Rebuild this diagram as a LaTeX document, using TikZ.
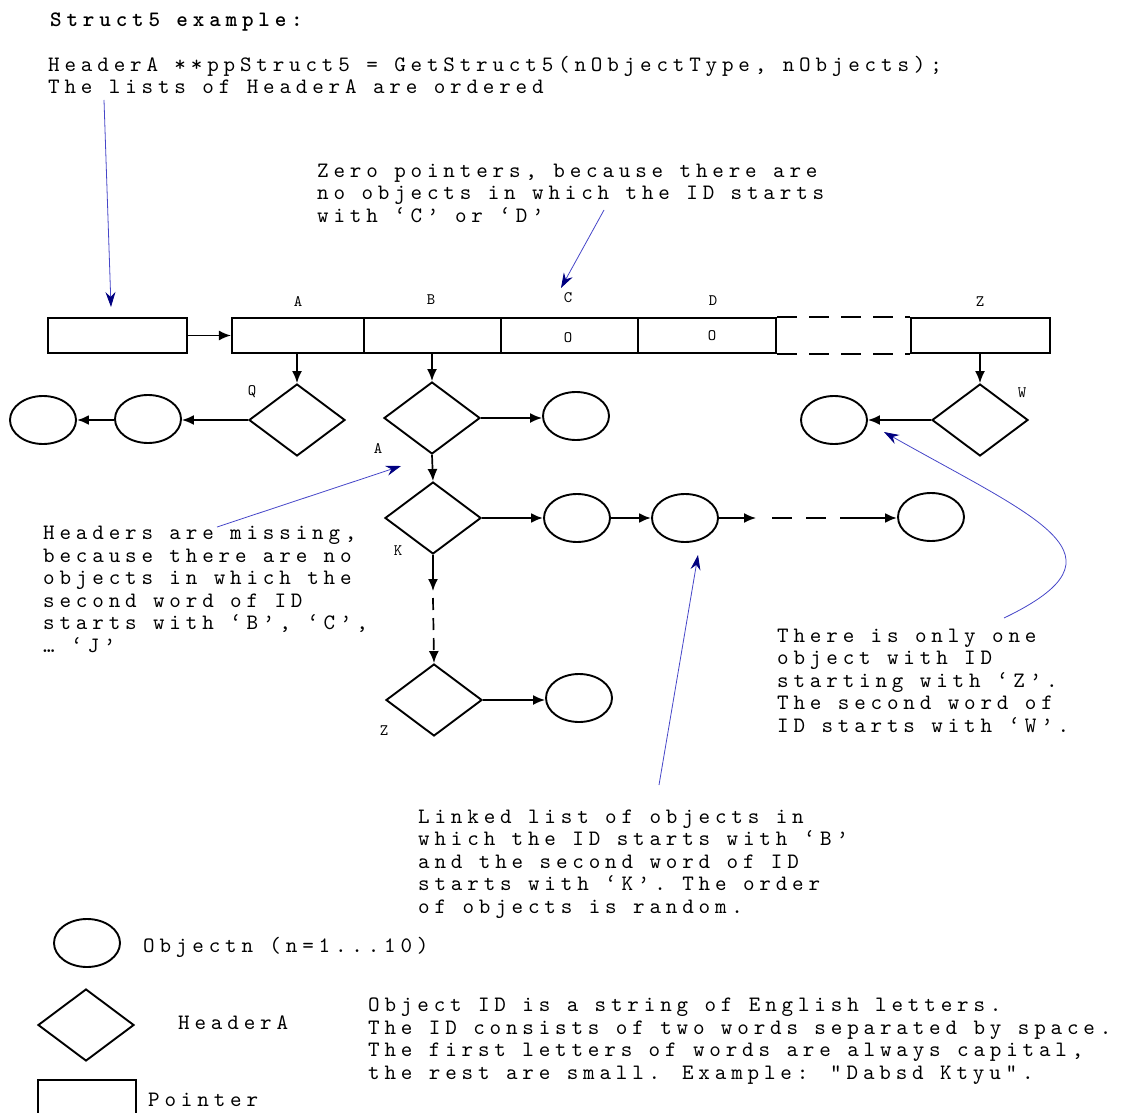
\documentclass[tikz,border=0pt]{standalone}
\usepackage{fontspec}
\newfontfamily\monof[LetterSpace=22]{lmmono10-regular.otf}
\newfontfamily\monob[LetterSpace=22]{lmmonolt10-bold.otf}
\newfontfamily\labf{lmmono10-regular.otf}
\usetikzlibrary{shapes.geometric,arrows.meta}
\definecolor{annline}{RGB}{70,70,200}
\definecolor{annhead}{RGB}{0,0,128}

\begin{document}
\begin{tikzpicture}[x=1pt,y=-1pt,
  cell/.style={draw, line width=2.2pt, minimum height=35pt, inner sep=0pt},
  hdr/.style={draw, diamond, line width=1.9pt, minimum width=96pt, minimum height=72pt, inner sep=0pt},
  obj/.style={draw, ellipse, line width=1.9pt, minimum width=66pt, minimum height=48pt, inner sep=0pt},
  link/.style={line width=1.7pt, -{Latex[length=12pt,width=10pt]}},
  boldlink/.style={line width=2.7pt, -{Latex[length=12pt,width=10pt]}},
  note/.style={annline, line width=0.8pt, -{Stealth[length=15pt,width=10pt,inset=5pt,color=annhead]}},
  txt/.style={font=\monof\fontsize{22}{22.5}\selectfont, align=left, inner sep=0pt, anchor=base west},
  lab/.style={font=\labf\fontsize{16}{16}\selectfont, inner sep=0pt},
]
\path[use as bounding box] (0,0) rectangle (1127,1113);

% headings (a multi-line node sits on the baseline of its last line)
\node[txt, font=\monob\fontsize{22}{22.5}\selectfont] (title) at (50,27) {Struct5 example:};
\node[txt] (code) at (48,94) {HeaderA **ppStruct5 = GetStruct5(nObjectType, nObjects);\\The lists of HeaderA are ordered};

% pointer and array of header pointers
\node[cell, minimum width=139pt] (ptr) at (117.5,335.5) {};
\node[cell, minimum width=132pt] (cA) at (298,335.5) {};
\node[cell, minimum width=137pt] (cB) at (432.5,335.5) {};
\node[cell, minimum width=137pt] (cC) at (569.5,335.5) {};
\node[cell, minimum width=138pt] (cD) at (707,335.5) {};
\node[cell, minimum width=139pt] (cZ) at (980.5,335.5) {};
\draw[line width=2.2pt, dash pattern=on 20pt off 12pt] (cD.north east) -- (cZ.north west);
\draw[line width=2.2pt, dash pattern=on 20pt off 12pt] (cD.south east) -- (cZ.south west);

\node[lab] (lA) at (298,302) {A};
\node[lab] (lB) at (431,300) {B};
\node[lab] (lC) at (568,298) {C};
\node[lab] (lD) at (713,301) {D};
\node[lab] (lZ) at (980,302) {Z};
\node[lab] (zC) at (568,338) {O};
\node[lab] (zD) at (712,336) {O};

\draw[line width=1.5pt, -{Latex[length=12pt,width=10pt]}] (ptr.east) -- (cA.west);

% headers
\node[hdr] (hQ) at (297,420) {};
\node[hdr] (hB) at (432,418) {};
\node[hdr] (hK) at (433,518) {};
\node[hdr] (hZ) at (434,700) {};
\node[hdr] (hW) at (980,420) {};

\node[lab] (lQ) at (252,392) {Q};
\node[lab] (lW) at (1022,393) {W};
\node[lab] (lA2) at (378,449) {A};
\node[lab] (lK) at (398,551) {K};
\node[lab] (lZ2) at (384,731) {Z};

% objects
\node[obj] (o0) at (43,420) {};
\node[obj] (o1) at (148,419) {};
\node[obj] (o2) at (576,416) {};
\node[obj] (o3) at (577,518) {};
\node[obj] (o4) at (685,518) {};
\node[obj] (o5) at (931,517) {};
\node[obj] (o6) at (579,698) {};
\node[obj] (o7) at (834,420) {};

% links
\draw[link] (cA.south -| hQ.north) -- (hQ.north);
\draw[link] (hQ.west) -- (hQ.west -| o1.east);
\draw[boldlink] (o1.west |- hQ.west) -- (o0.east |- hQ.west);

\draw[link] (cB.south -| hB.north) -- (hB.north);
\draw[link] (hB.east) -- (hB.east -| o2.west);
\draw[link] (hB.south) -- (hK.north);

\draw[boldlink] (hK.east) -- (hK.east -| o3.west);
\draw[boldlink] (o3.east) -- (o4.west);
\coordinate (g1) at (756,518);
\coordinate (g2) at (772,518);
\coordinate (g3) at (860,518);
\draw[link] (o4.east) -- (g1);
\draw[line width=2.2pt, dash pattern=on 20pt off 14pt] (g2) -- (g3);
\draw[boldlink] (g3) -- (o5.west |- g3);

\coordinate (k1) at (433,591);
\coordinate (k2) at (433,598);
\draw[link] (hK.south) -- (k1);
\draw[line width=1.7pt, dash pattern=on 12pt off 8pt, -{Latex[length=12pt,width=10pt]}] (k2) -- (hZ.north);
\draw[link] (hZ.east) -- (hZ.east -| o6.west);

\draw[link] (cZ.south -| hW.north) -- (hW.north);
\draw[link] (hW.west) -- (o7.east);

% notes
\node[txt] (tZero) at (317,222) {Zero pointers, because there are\\no objects in which the ID starts\\with ‘C’ or ‘D’};
\node[txt] (tMiss) at (43,652) {Headers are missing,\\because there are no\\objects in which the\\second word of ID\\starts with ‘B’, ‘C’,\\… ‘J’};
\node[txt] (tOne) at (777,732) {There is only one\\object with ID\\starting with ‘Z’.\\The second word of\\ID starts with ‘W’.};
\node[txt] (tList) at (418,913) {Linked list of objects in\\which the ID starts with ‘B’\\and the second word of ID\\starts with ‘K’. The order\\of objects is random.};

\coordinate (n1s) at (104,100);
\coordinate (n1e) at (111,307);
\coordinate (n2s) at (604,210);
\coordinate (n2e) at (561,288);
\coordinate (n3s) at (217,527);
\coordinate (n3e) at (401,466);
\coordinate (n4s) at (659,785);
\coordinate (n4e) at (698,555);
\coordinate (n5s) at (1004,618);
\coordinate (n5e) at (884,432);
\draw[note] (n1s) -- (n1e);
\draw[note] (n2s) -- (n2e);
\draw[note] (n3s) -- (n3e);
\draw[note] (n4s) -- (n4e);
\draw[note] (n5s) .. controls (1135,555) and (1040,520) .. (n5e);

% legend
\node[obj] (lgObj) at (87,943) {};
\node[txt] (tObj) at (143,952) {Objectn (n=1...10)};
\node[hdr] (lgHdr) at (86,1025) {};
\node[txt] (tHdr) at (178,1029) {HeaderA};
\node[cell, minimum width=98pt, minimum height=50pt] (lgPtr) at (87,1105) {};
\node[txt] (tPtr) at (148,1106) {Pointer};
\node[txt] (tId) at (368,1079) {Object ID is a string of English letters.\\The ID consists of two words separated by space.\\The first letters of words are always capital,\\the rest are small. Example: “Dabsd Ktyu”.};
\end{tikzpicture}
\end{document}
